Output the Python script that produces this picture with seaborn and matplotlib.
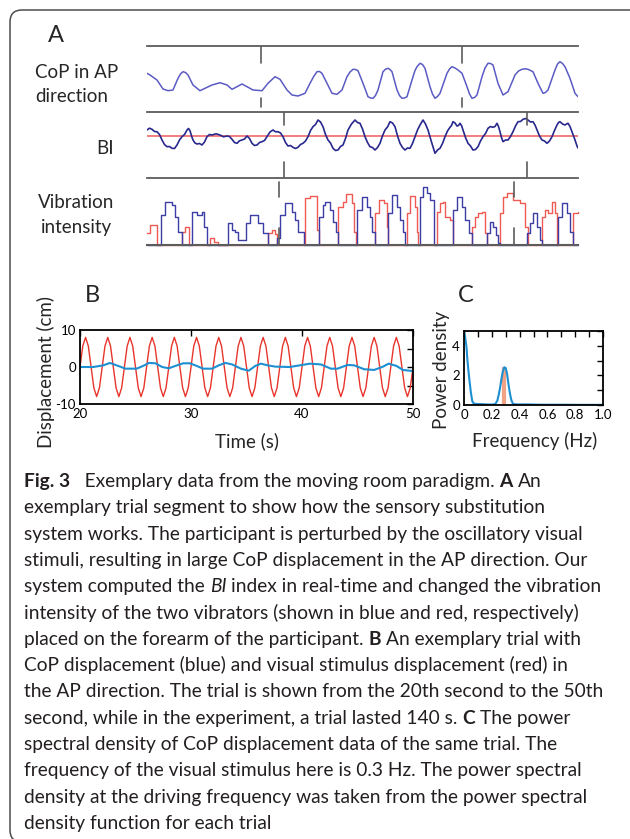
import matplotlib
matplotlib.use("Agg")
import matplotlib.pyplot as plt
from matplotlib.patches import FancyBboxPatch
import numpy as np
import seaborn as sns

sns.set_style("white")
plt.rcParams["font.family"] = ["Lato", "DejaVu Sans"]
plt.rcParams["axes.unicode_minus"] = False

# ---------------------------------------------------------------- data
# Panel A: time in samples, amplitudes in arbitrary units
cop_points = [
    (0, 9.7), (3, 8), (10, 3), (16, -6), (21, -7.7), (26, -7), (31, 4.7), (33.5, 9), (36, 11.3),
    (38.5, 10.5), (41, 8), (46, -2), (53, -7.7), (58, -5.3), (65, -2), (73, 0.3), (80, -2),
    (85, -6.3), (90, -3.7), (95, -1), (100, -3.7), (106, -7), (115, -7.7), (121, -0.3), (128, 6.3),
    (133, 3.7), (140, -7), (145, -12), (151, -13), (158, -10.3), (163, -0.3), (167, 7),
    (170, 11.3), (172.5, 11.5), (175, 9.7), (180, -0.3), (185, -10.3), (190, -11.3), (195, -7),
    (200, 6.3), (203, 11), (206, 13.7), (208.5, 13.5), (211, 12.3), (216, -0.3), (221, -13.7),
    (223.5, -15), (226, -15.3), (228.5, -12.5), (231, -7), (236, 11.3), (238.5, 13.8), (241, 14.7),
    (243, 13.5), (245, 11.3), (250, -7), (252.5, -12.5), (255, -15.3), (257.5, -15), (260, -13.7),
    (265, 3), (268, 12.5), (270, 16.3), (273, 19.7), (275.5, 18.5), (278, 14.7), (283, -3.7),
    (285.5, -11), (288, -15.3), (290.5, -13.5), (293, -10.3), (300, 9.7), (302.5, 14), (305, 16.3),
    (308, 15), (311, 13), (315, 9.7), (320, -3.7), (322.5, -11), (325, -15.3), (327.5, -14.5),
    (330, -12), (335, 6.3), (338, 15), (341, 19.7), (343.5, 19.5), (346, 18), (351, -0.3),
    (356, -12), (361, -8.7), (368, 8), (371.5, 12), (375, 13.7), (378, 14.2), (381, 13.7),
    (386, 11.3), (391, -0.3), (396, -10.3), (398.5, -9.5), (401, -7), (408, 13), (410.5, 19),
    (413, 21.3), (415.5, 19.5), (418, 16.3), (423, 4.7), (428, -10.3), (431, -13.7)]
cop_a_time = [p[0] for p in cop_points]
cop_a_val = [p[1] for p in cop_points]

bi_points = [
    (0, 6), (2.5, 7.8), (5, 6.7), (7.5, 4.5), (10, 4.3), (12.5, 1.5), (15, -4), (17.5, -8.5),
    (20, -10.7), (22.5, -10.5), (25, -12.3), (27.5, -12.5), (30, -9), (32.5, -4), (35, -0.7),
    (37.5, 1.5), (40, 6), (41.5, 7.5), (43, 5.3), (44.5, 0.2), (46, -4), (48, -7), (50, -8),
    (52.5, -7.5), (55, -9), (57.5, -6), (60, -0.7), (62.5, 1.5), (65, 1), (69, 2.2), (73, 1),
    (76.5, -0.8), (80, 0), (82.5, -0.5), (85, -3.3), (87.5, -6.5), (90, -7.3), (92.5, -4.8),
    (95, -4), (97.5, -3), (100, 0), (102.5, -2.5), (105, -7.3), (107.5, -9.5), (110, -9),
    (112.5, -6.5), (115, -5.7), (117.5, -4.5), (120, -0.7), (123, 4), (126, 6), (128.5, 4.2),
    (131, 4.3), (133.5, 3), (136, -0.7), (138.5, -6.5), (141, -10), (143.5, -9.5), (146, -11.3),
    (148.5, -12.5), (151, -11.3), (153.5, -8.5), (156, -7.3), (158.5, -5), (161, -0.7),
    (163.5, 5.5), (166, 9.3), (168.5, 11.5), (171, 16), (173.5, 14), (176, 9.3), (178.5, 1.5),
    (181, -4), (183.5, -7), (186, -12.3), (188.5, -14.5), (191, -14), (193.5, -10.5), (196, -9),
    (198.5, -2.5), (201, 6), (204.5, 12), (208, 16), (210.5, 13.5), (213, 12.7), (215.5, 7),
    (218, -0.7), (220.5, -6.5), (223, -10.7), (225.5, -11.5), (228, -14), (230.5, -11.5),
    (233, -7.3), (235.5, 0.2), (238, 6), (240.5, 9), (243, 14.3), (245.5, 13), (248, 9.3),
    (250.5, 0.2), (253, -7.3), (255.5, -11.5), (258, -14), (260.5, -12), (263, -12.3),
    (265.5, -7.5), (268, -0.7), (270.5, 6), (273, 11), (274.5, 13.5), (276, 16), (278.5, 12),
    (281, 6), (284.5, -6), (288, -17.3), (290.5, -14), (293, -12.3), (295.5, -7.5), (298, -0.7),
    (300.5, 5), (303, 8.7), (304.5, 10.5), (306, 14.3), (308, 13), (310, 10), (311.5, 10.5),
    (313, 12.7), (314.5, 10.5), (316, 6), (318.5, -1.5), (321, -7.3), (323.5, -10), (326, -14),
    (328.5, -13.5), (331, -10.7), (333.5, -5), (336, -0.7), (338.5, 2.5), (341, 7.7),
    (343.5, 9.5), (346, 8.7), (348, 9.5), (350, 12.7), (351.5, 9.5), (353, 4.3), (354.5, -1.5),
    (356, -5.7), (358.5, -4), (361, -4), (363.5, -0.5), (366, 4.3), (368.5, 10), (371, 14.3),
    (373.5, 14.5), (376, 16.7), (378.5, 17.5), (381, 16), (383.5, 14), (386, 14.3), (388, 11),
    (390, 6), (392.5, 0), (395, -4), (397.5, -5), (400, -7.3), (402.5, -5), (405, -0.7),
    (407.5, 5.5), (410, 11), (411.5, 13.5), (413, 14.3), (415.5, 12), (418, 11), (419.5, 12),
    (421, 12.7), (423, 9.5), (425, 4.3), (427.5, -2.5), (430, -10), (431, -12)]
bi_time = [p[0] for p in bi_points]
bi_val = [p[1] for p in bi_points]
bi_threshold = 0

vib_blue_time = [0, 14, 18, 25, 28, 31, 35, 45, 50, 55, 57, 60, 81, 85, 88, 91, 99, 103, 111,
                 116, 121, 130, 133, 138, 145, 148, 151, 157, 172, 176, 178, 183, 186, 189, 191,
                 210, 215, 220, 223, 225, 228, 241, 245, 250, 253, 256, 258, 273, 276, 280, 283,
                 287, 306, 310, 315, 318, 322, 325, 340, 343, 346, 349, 351, 353, 380, 383, 386,
                 390, 393, 395, 411, 415, 420, 423, 426, 431]
vib_blue_level = [0, 30, 43, 40, 28, 13, 0, 33, 30, 33, 18, 0, 22, 15, 13, 5, 22, 30, 22, 12, 0,
                  7, 30, 42, 33, 25, 13, 0, 28, 40, 43, 35, 23, 13, 0, 35, 48, 38, 28, 13, 0, 32,
                  50, 38, 25, 13, 0, 48, 58, 52, 45, 0, 35, 48, 38, 25, 12, 0, 12, 23, 18, 10, 2,
                  0, 12, 22, 32, 18, 5, 0, 28, 42, 32, 13, 0, 0]
vib_red_time = [0, 3, 10, 35, 38, 42, 63, 67, 71, 121, 125, 128, 130, 158, 163, 170, 172, 191,
                196, 199, 205, 207, 209, 228, 232, 237, 240, 241, 260, 263, 268, 270, 271, 290,
                293, 296, 298, 303, 306, 325, 328, 331, 335, 338, 340, 353, 356, 360, 366, 373,
                378, 381, 395, 398, 401, 405, 408, 410, 426, 431]
vib_red_level = [12, 20, 0, 13, 18, 0, 7, 3, 0, 12, 15, 11, 0, 47, 49, 15, 0, 38, 43, 51, 42, 13,
                 0, 32, 45, 42, 18, 0, 32, 49, 38, 13, 0, 33, 42, 43, 28, 25, 0, 18, 28, 32, 33,
                 12, 0, 32, 48, 52, 45, 42, 18, 0, 28, 35, 32, 43, 32, 0, 32, 33]

cop_marks = [114, 315]
bi_marks = [137, 380]
vib_marks = [132, 367]

# Panel B: time (s) and displacement (cm)
stim_time = [20.0, 20.25, 20.5, 20.75, 21.0, 21.25, 21.5, 21.75,
             22.0, 22.25, 22.5, 22.75, 23.0, 23.25, 23.5, 23.75,
             24.0, 24.25, 24.5, 24.75, 25.0, 25.25, 25.5, 25.75,
             26.0, 26.25, 26.5, 26.75, 27.0, 27.25, 27.5, 27.75,
             28.0, 28.25, 28.5, 28.75, 29.0, 29.25, 29.5, 29.75,
             30.0, 30.25, 30.5, 30.75, 31.0, 31.25, 31.5, 31.75,
             32.0, 32.25, 32.5, 32.75, 33.0, 33.25, 33.5, 33.75,
             34.0, 34.25, 34.5, 34.75, 35.0, 35.25, 35.5, 35.75,
             36.0, 36.25, 36.5, 36.75, 37.0, 37.25, 37.5, 37.75,
             38.0, 38.25, 38.5, 38.75, 39.0, 39.25, 39.5, 39.75,
             40.0, 40.25, 40.5, 40.75, 41.0, 41.25, 41.5, 41.75,
             42.0, 42.25, 42.5, 42.75, 43.0, 43.25, 43.5, 43.75,
             44.0, 44.25, 44.5, 44.75, 45.0, 45.25, 45.5, 45.75,
             46.0, 46.25, 46.5, 46.75, 47.0, 47.25, 47.5, 47.75,
             48.0, 48.25, 48.5, 48.75, 49.0, 49.25, 49.5, 49.75,
             50.0]
stim_disp = [0, 5.66, 8, 5.66, 0, -5.66, -8, -5.66,
             0, 5.66, 8, 5.66, 0, -5.66, -8, -5.66,
             0, 5.66, 8, 5.66, 0, -5.66, -8, -5.66,
             0, 5.66, 8, 5.66, 0, -5.66, -8, -5.66,
             0, 5.66, 8, 5.66, 0, -5.66, -8, -5.66,
             0, 5.66, 8, 5.66, 0, -5.66, -8, -5.66,
             0, 5.66, 8, 5.66, 0, -5.66, -8, -5.66,
             0, 5.66, 8, 5.66, 0, -5.66, -8, -5.66,
             0, 5.66, 8, 5.66, 0, -5.66, -8, -5.66,
             0, 5.66, 8, 5.66, 0, -5.66, -8, -5.66,
             0, 5.66, 8, 5.66, 0, -5.66, -8, -5.66,
             0, 5.66, 8, 5.66, 0, -5.66, -8, -5.66,
             0, 5.66, 8, 5.66, 0, -5.66, -8, -5.66,
             0, 5.66, 8, 5.66, 0, -5.66, -8, -5.66,
             0, 5.66, 8, 5.66, 0, -5.66, -8, -5.66,
             0]
cop_b_time = [20.0, 21.2, 22.1, 22.7, 23.3, 24.1, 25.1, 25.7, 26.2, 26.8, 27.4, 28.0, 28.6,
              29.3, 29.9, 30.5, 31.1, 31.9, 32.5, 33.1, 33.7, 34.5, 35.2, 35.8, 36.3, 36.9,
              37.6, 38.9, 39.8, 40.7, 41.7, 42.6, 43.2, 44.1, 44.7, 45.6, 46.5, 47.3, 47.8,
              48.5, 49.1, 50.0]
cop_b_disp = [0.0, 0.0, 0.45, 1.1, 0.45, -0.45, -0.45, 0.3, 1.1, 1.0, 0.0, -0.35, 0.3, 1.0,
              1.0, 0.3, -0.45, -0.45, 0.45, 1.1, 0.7, -0.45, -1.0, 0.3, 0.9, 0.45, 0.1, 0.0,
              0.45, 0.9, 0.7, -0.45, -0.45, 0.55, 0.45, -0.6, -0.8, 0.1, 0.9, 0.3, -0.8, -1.1]

# Panel C: power spectral density
psd_freq = [0, 0.008, 0.017, 0.025, 0.033, 0.04, 0.05, 0.06, 0.07, 0.09, 0.12, 0.16, 0.2,
            0.225, 0.24, 0.25, 0.26, 0.27, 0.28, 0.29, 0.3, 0.31, 0.32, 0.33, 0.34, 0.35,
            0.36, 0.38, 0.45, 0.55, 0.7, 0.85, 1.0]
psd_power = [5.0, 4.6, 4.0, 3.0, 2.2, 1.6, 0.8, 0.25, 0.1, 0.07, 0.06, 0.04, 0.03, 0.06, 0.3,
             0.7, 1.2, 1.8, 2.3, 2.55, 2.5, 2.1, 1.4, 0.8, 0.35, 0.12, 0.06, 0.04, 0.04, 0.02,
             0.02, 0.01, 0.01]
driving_freq = 0.29
driving_power = 2.55

caption_lines = [
    [("Fig. 3", "bold", "normal"), ("\u2002Exemplary data from the moving room paradigm.", "normal", "normal"),
     ("A", "bold", "normal"), ("An", "normal", "normal")],
    [("exemplary trial segment to show how the sensory substitution", "normal", "normal")],
    [("system works. The participant is perturbed by the oscillatory visual", "normal", "normal")],
    [("stimuli, resulting in large CoP displacement in the AP direction. Our", "normal", "normal")],
    [("system computed the", "normal", "normal"), ("BI", "normal", "italic"),
     ("index in real-time and changed the vibration", "normal", "normal")],
    [("intensity of the two vibrators (shown in blue and red, respectively)", "normal", "normal")],
    [("placed on the forearm of the participant.", "normal", "normal"), ("B", "bold", "normal"),
     ("An exemplary trial with", "normal", "normal")],
    [("CoP displacement (blue) and visual stimulus displacement (red) in", "normal", "normal")],
    [("the AP direction. The trial is shown from the 20th second to the 50th", "normal", "normal")],
    [("second, while in the experiment, a trial lasted 140 s.", "normal", "normal"), ("C", "bold", "normal"),
     ("The power", "normal", "normal")],
    [("spectral density of CoP displacement data of the same trial. The", "normal", "normal")],
    [("frequency of the visual stimulus here is 0.3 Hz. The power spectral", "normal", "normal")],
    [("density at the driving frequency was taken from the power spectral", "normal", "normal")],
    [("density function for each trial", "normal", "normal")],
]

# ---------------------------------------------------------------- layout
W, H = 630, 839
fig = plt.figure(figsize=(W / 100, H / 100), dpi=100)
fig.patch.set_facecolor("white")


def px_rect(x0, y0, x1, y1):
    return [x0 / W, 1 - y1 / H, (x1 - x0) / W, (y1 - y0) / H]


def ptxt(x, y, s, **kw):
    return fig.text(x / W, 1 - y / H, s, **kw)


frame = FancyBboxPatch((10, -3), 660, 829 + 3, boxstyle="round,pad=0,rounding_size=12",
                       transform=None, fill=False, edgecolor="#4d4d4d", linewidth=1.1)
fig.patches.append(frame)

GRAY = "#5c5c5c"
LABEL_FS = 13.5


def strip_axes(rect):
    ax = fig.add_axes(rect)
    ax.patch.set_alpha(0)
    return ax


def finish_strip(ax, ylim):
    ax.set_xlim(0, 431)
    ax.set_ylim(*ylim)
    ax.set_xticks([])
    ax.set_yticks([])
    ax.set_xlabel("")
    ax.set_ylabel("")
    for side in ["left", "right", "bottom"]:
        ax.spines[side].set_visible(False)
    ax.spines["top"].set_visible(True)
    ax.spines["top"].set_color(GRAY)
    ax.spines["top"].set_linewidth(1.3)


# --- A: CoP strip
ax1 = strip_axes(px_rect(147, 46, 578, 112))
sns.lineplot(x=cop_a_time, y=cop_a_val, ax=ax1, color="#5b5bc4", lw=1.1, sort=False, estimator=None)
finish_strip(ax1, (-29, 37))
for t in cop_marks:
    ax1.axvline(t, ymin=0.742, ymax=1, color=GRAY, lw=1.2)
    ax1.axvline(t, ymin=0.076, ymax=0.212, color=GRAY, lw=1.2)

# --- A: BI strip
ax2 = strip_axes(px_rect(147, 112, 578, 178))
ax2.axhline(bi_threshold, color="#f27e7e", lw=1.4)
sns.lineplot(x=bi_time, y=bi_val, ax=ax2, color="#28288e", lw=1.2, sort=False, estimator=None)
finish_strip(ax2, (-42, 24))
for t in bi_marks:
    ax2.axvline(t, ymin=0.803, ymax=1, color=GRAY, lw=1.2)
    ax2.axvline(t, ymin=0.015, ymax=0.242, color=GRAY, lw=1.2)

# --- A: vibration strip
ax3 = strip_axes(px_rect(147, 178, 578, 245))
sns.lineplot(x=vib_red_time, y=vib_red_level, ax=ax3, color="#ef5a52", lw=1.0, sort=False,
             estimator=None, drawstyle="steps-post")
sns.lineplot(x=vib_blue_time, y=vib_blue_level, ax=ax3, color="#3d3da6", lw=1.0, sort=False,
             estimator=None, drawstyle="steps-post")
finish_strip(ax3, (0, 67))
ax3.spines["bottom"].set_visible(True)
ax3.spines["bottom"].set_color(GRAY)
ax3.spines["bottom"].set_linewidth(1.5)
for ln in ax3.lines:
    ln.set_clip_on(False)
for t in vib_marks:
    ax3.axvline(t, ymin=0.716, ymax=0.94, color=GRAY, lw=1.2)
    ax3.axvline(t, ymin=0.0, ymax=0.254, color=GRAY, lw=1.2)

ptxt(56, 36, "A", fontsize=17, ha="center", va="center")
ptxt(35, 73, "CoP in AP", fontsize=LABEL_FS, ha="left", va="center")
ptxt(35, 97, "direction", fontsize=LABEL_FS, ha="left", va="center")
ptxt(114, 148, "BI", fontsize=LABEL_FS, ha="right", va="center")
ptxt(76, 203, "Vibration", fontsize=LABEL_FS, ha="center", va="center")
ptxt(76, 227, "intensity", fontsize=LABEL_FS, ha="center", va="center")

# --- B
axB = fig.add_axes(px_rect(80, 330, 413, 404))
sns.lineplot(x=stim_time, y=stim_disp, ax=axB, color="#e8352c", lw=1.0, sort=False, estimator=None)
sns.lineplot(x=cop_b_time, y=cop_b_disp, ax=axB, color="#1e8fd0", lw=1.5, sort=False, estimator=None)
axB.set_xlim(20, 50)
axB.set_ylim(-10, 10)
axB.set_xticks([20, 30, 40, 50])
axB.set_xticklabels(["20", "30", "40", "50"])
axB.set_yticks([-10, -5, 0, 5, 10])
axB.set_yticklabels(["-10", "", "0", "", "10"])

# --- C
axC = fig.add_axes(px_rect(464, 331, 603, 405))
axC.vlines(driving_freq, 0, driving_power, color="#f2a385", lw=3.0)
sns.lineplot(x=psd_freq, y=psd_power, ax=axC, color="#1e8fd0", lw=1.5, sort=False, estimator=None)
axC.set_xlim(0, 1)
axC.set_ylim(0, 5)
axC.set_xticks([0, 0.1, 0.2, 0.3, 0.4, 0.5, 0.6, 0.7, 0.8, 0.9, 1.0])
axC.set_xticklabels(["0", "", "0.2", "", "0.4", "", "0.6", "", "0.8", "", "1.0"])
axC.set_yticks([0, 1, 2, 3, 4, 5])
axC.set_yticklabels(["0", "", "2", "", "4", ""])

for ax in (axB, axC):
    ax.set_xlabel("")
    ax.set_ylabel("")
    for sp in ax.spines.values():
        sp.set_visible(True)
        sp.set_color("black")
        sp.set_linewidth(1.3)
    ax.tick_params(direction="in", length=4, width=1.0, top=True, right=True,
                   labelsize=9.5, pad=3, colors="black")
    ax.patch.set_alpha(0)

ptxt(92, 296, "B", fontsize=17, ha="center", va="center")
ptxt(466, 296, "C", fontsize=17, ha="center", va="center")
ptxt(46, 372, "Displacement (cm)", fontsize=LABEL_FS, rotation=90, ha="center", va="center")
ptxt(247, 441, "Time (s)", fontsize=LABEL_FS, ha="center", va="center")
ptxt(441, 370, "Power density", fontsize=LABEL_FS, rotation=90, ha="center", va="center")
ptxt(535, 441, "Frequency (Hz)", fontsize=LABEL_FS, ha="center", va="center")

# ---------------------------------------------------------------- caption
renderer = fig.canvas.get_renderer()
CAP_X = 24
CAP_BASE = 487
CAP_STEP = 26.3
cap_targets = {1: 524, 2: 578, 3: 584, 5: 602, 7: 590, 8: 620, 10: 564, 11: 582, 12: 586}


def text_w(s, size, weight="normal", style="normal"):
    t = fig.text(0, 0, s, fontsize=size, fontweight=weight, fontstyle=style)
    w = t.get_window_extent(renderer).width
    t.remove()
    return w


def space_w(size):
    return text_w("a a", size) - text_w("aa", size)


def line_w(segs, size):
    w = 0
    for i, (s, wt, st) in enumerate(segs):
        if i:
            w += space_w(size)
        w += text_w(s, size, wt, st)
    return w


ratios = [(cap_targets[i] - CAP_X) / line_w(caption_lines[i], 10) for i in cap_targets]
cap_size = 10 * float(np.median(ratios))

for i, segs in enumerate(caption_lines):
    x = CAP_X
    y = CAP_BASE + i * CAP_STEP
    for j, (s, wt, st) in enumerate(segs):
        if j:
            x += space_w(cap_size)
        t = ptxt(x, y, s, fontsize=cap_size, fontweight=wt, fontstyle=st, ha="left",
                 va="baseline", color="#231f20")
        x += t.get_window_extent(renderer).width

fig.savefig("out.png", dpi=100, facecolor="white")
